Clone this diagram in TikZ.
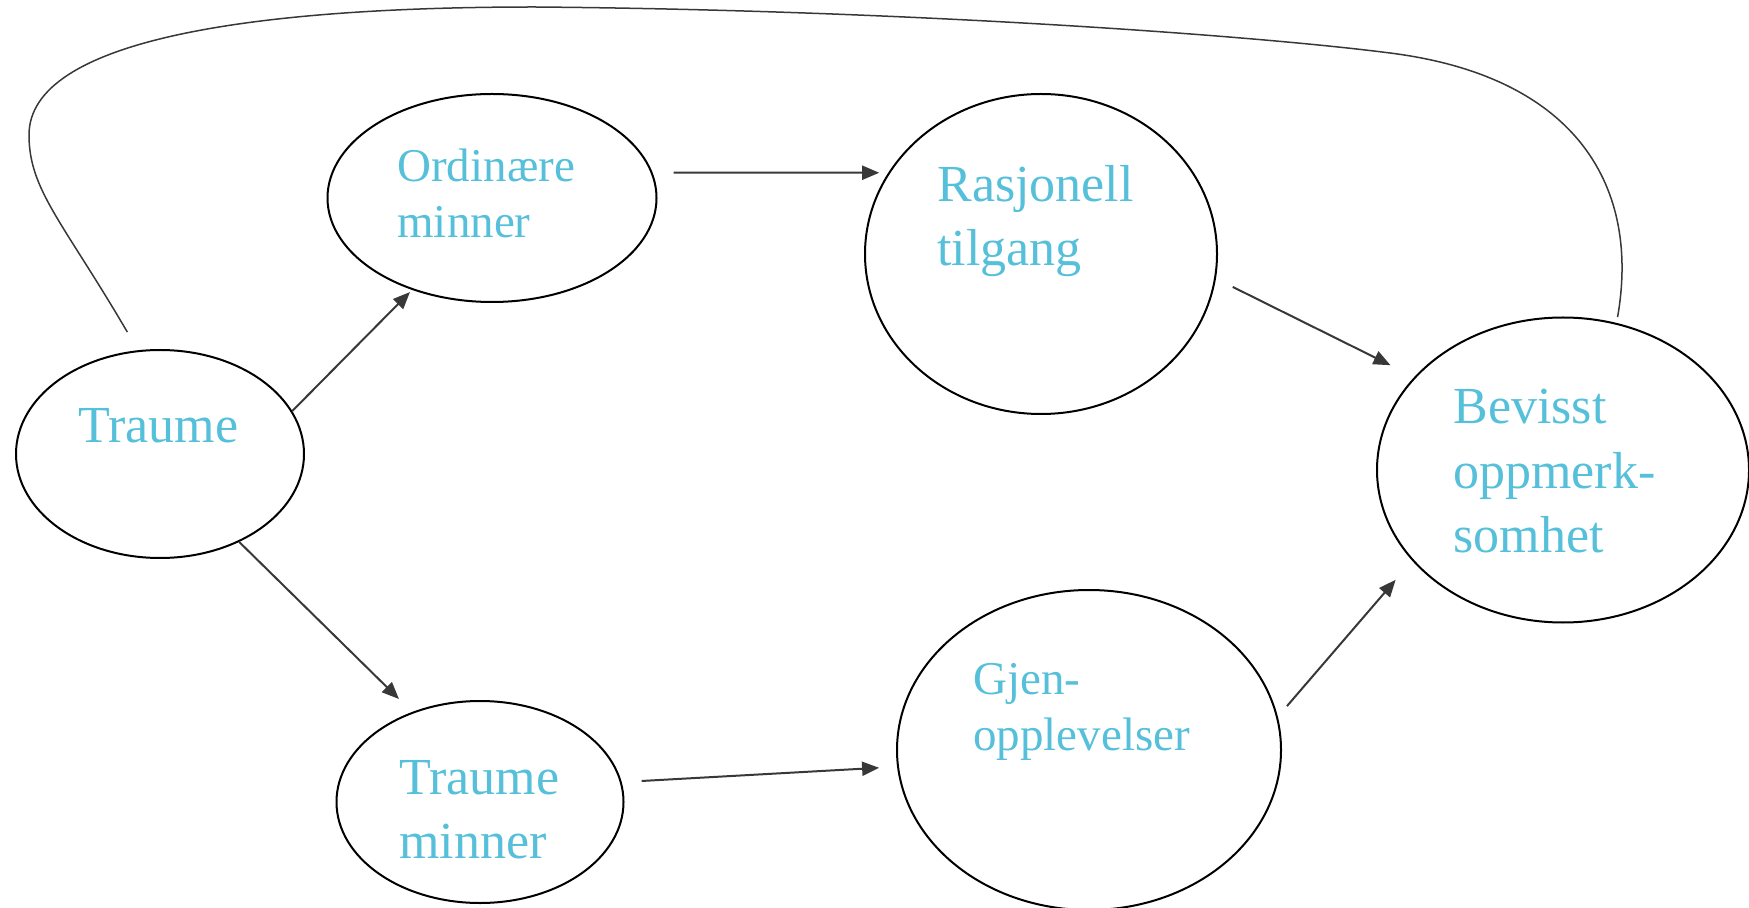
\documentclass[tikz,border=0pt]{standalone}
\usepackage{fontspec}
\setmainfont{Liberation Serif}
\usetikzlibrary{arrows.meta,shapes.geometric}
\definecolor{labelblue}{RGB}{86,192,218}

\begin{document}
\begin{tikzpicture}[
    x=0.5pt, y=-0.5pt,
    bubble/.style={ellipse, draw=black, line width=1pt, inner sep=0pt},
    lbl/.style={anchor=base west, align=left, inner sep=0pt, text=labelblue,
      font=\fontsize{26}{32}\selectfont},
    lblsmall/.style={lbl, font=\fontsize{23.5}{28}\selectfont},
    flow/.style={-{Triangle[length=8.5pt, width=7pt]}, draw=black!78, line width=1pt},
    link/.style={draw=black!78, line width=.75pt}
  ]
    \useasboundingbox (0,0) rectangle (1749,908);
    \clip (0,0) rectangle (1749,908);

    \node[bubble, minimum width=144pt, minimum height=104pt] (traume) at (160,454) {};
    \node[bubble, minimum width=164.5pt, minimum height=104pt] (ordin) at (492,198) {};
    \node[bubble, minimum width=176pt, minimum height=160pt] (rasj) at (1041,254) {};
    \node[bubble, minimum width=186pt, minimum height=152.5pt] (bevisst) at (1563,470) {};
    \node[bubble, minimum width=143.5pt, minimum height=101pt] (tminner) at (480,802) {};
    \node[bubble, minimum width=192pt, minimum height=160pt] (gjen) at (1089,750) {};

    % base = baseline of the last line
    \node[lbl] (traumetxt) at (78,443) {Traume};
    \node[lblsmall] (ordintxt) at (397,238) {Ordinære\\minner};
    \node[lbl] (rasjtxt) at (937,266) {Rasjonell\\tilgang};
    \node[lbl] (bevissttxt) at (1453,552) {Bevisst\\oppmerk-\\somhet};
    \node[lbl] (tminnertxt) at (399,858) {Traume\\minner};
    \node[lblsmall] (gjentxt) at (973,750) {Gjen-\\opplevelser};

    \draw[flow, shorten >=1.5pt] (traume.18) -- (ordin.229);
    \draw[flow, shorten <=10.5pt, shorten >=4.5pt] (ordin.9) -- (rasj.152);
    \draw[flow, shorten <=9.4pt, shorten >=13.25pt] (rasj.352) -- (bevisst.148);
    \draw[flow, shorten >=9.25pt] (traume.312) -- (tminner.127);
    \draw[flow, shorten <=10pt, shorten >=9pt] (tminner.8) -- (gjen.185);
    \draw[flow, shorten <=7pt, shorten >=12.65pt] (gjen.10) -- (bevisst.211);
    % long way round, over the top
    \draw[link, shorten <=10.5pt, shorten >=3pt] (traume.102)
      .. controls (63,222) and (29,190) .. (29,135)
      .. controls (29,40) and (250,7) .. (535,7)
      .. controls (900,10) and (1250,35) .. (1390,53)
      .. controls (1580,77) and (1640,190) .. (bevisst.70);
  \end{tikzpicture}
\end{document}
